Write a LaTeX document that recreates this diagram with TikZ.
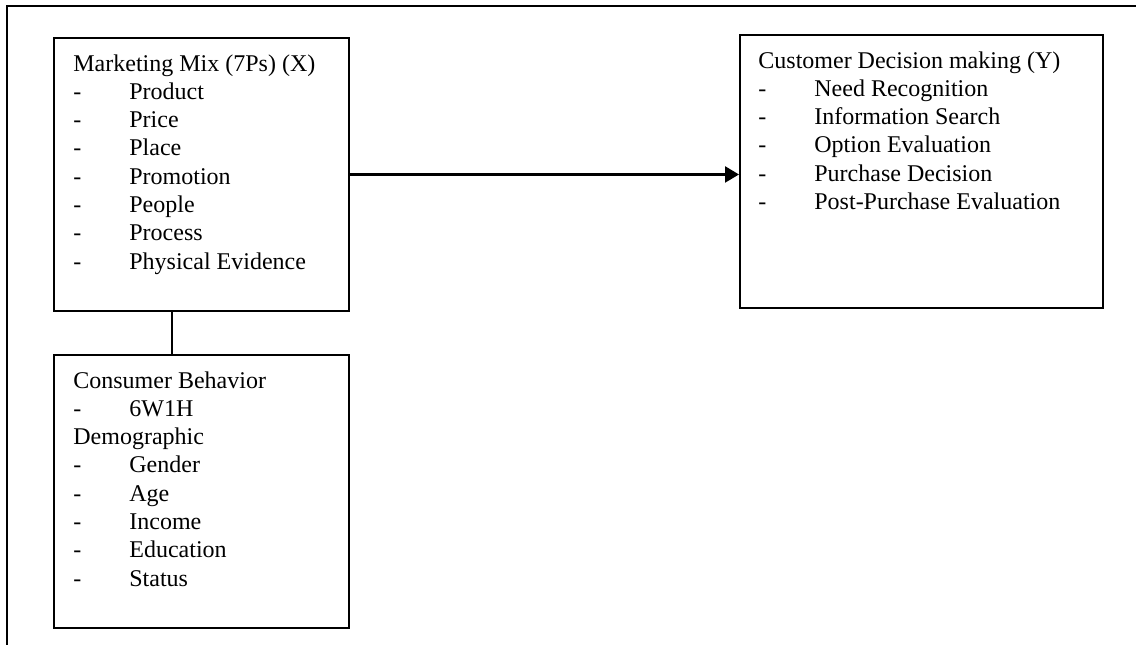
\documentclass[tikz,border=0pt]{standalone}
\usepackage{fontspec}
\setmainfont{Liberation Serif}
\usetikzlibrary{arrows.meta}
\newcommand{\ttlline}[1]{\hbox{#1}}
\newcommand{\dashitem}[1]{\hbox{\makebox[28pt][l]{-}#1}}
\tikzset{
  boxnode/.style={draw, line width=0.95pt, inner sep=0pt, anchor=north west},
  txtnode/.style={anchor=base west, inner sep=0pt, font=\fontsize{12}{14.15}\selectfont},
  link/.style={line width=0.9pt}
}
\begin{document}
\begin{tikzpicture}[x=0.5pt,y=-0.5pt]
\useasboundingbox (0,0) rectangle (1136,645);
% outer frame (top and left only)
\draw[line width=0.9pt] (1136,6) -- (7,6) -- (7,645);
% boxes
\node[boxnode, minimum width=147.5pt, minimum height=136.5pt] (mm) at (53,37) {};
\node[boxnode, minimum width=147.5pt, minimum height=136.5pt] (cb) at (53,354) {};
\node[boxnode, minimum width=181.5pt, minimum height=136.5pt] (cdm) at (739,34) {};
% texts
\node[txtnode] (mmt) at (73,71) {\vtop{\baselineskip=14.15pt
  \ttlline{Marketing Mix (7Ps) (X)}
  \dashitem{Product}\dashitem{Price}\dashitem{Place}\dashitem{Promotion}
  \dashitem{People}\dashitem{Process}\dashitem{Physical Evidence}}};
\node[txtnode] (cbt) at (73,388) {\vtop{\baselineskip=14.15pt
  \ttlline{Consumer Behavior}
  \dashitem{6W1H}
  \ttlline{Demographic}
  \dashitem{Gender}\dashitem{Age}\dashitem{Income}\dashitem{Education}\dashitem{Status}}};
\node[txtnode] (cdmt) at (758,68) {\vtop{\baselineskip=14.15pt
  \ttlline{Customer Decision making (Y)}
  \dashitem{Need Recognition}\dashitem{Information Search}\dashitem{Option Evaluation}
  \dashitem{Purchase Decision}\dashitem{Post-Purchase Evaluation}}};
% connectors
\coordinate (vx) at (172,330);
\draw[link] (mm.south -| vx) -- (cb.north -| vx);
\draw[link, line width=1.2pt, -{Triangle[length=7pt,width=8pt]}] (mm.east) -- (mm.east -| cdm.west);
\end{tikzpicture}
\end{document}
